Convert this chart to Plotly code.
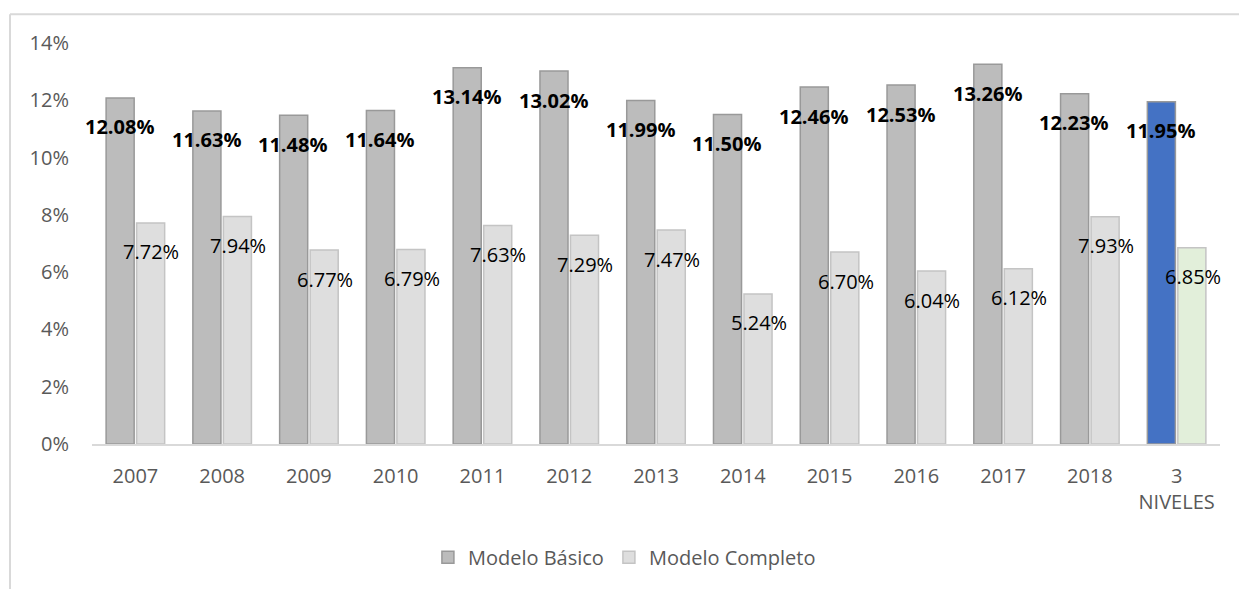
import plotly.graph_objects as go

# Categories and series values (percent)
categories = ["2007", "2008", "2009", "2010", "2011", "2012", "2013",
              "2014", "2015", "2016", "2017", "2018", "3<br>NIVELES"]
basico = [12.08, 11.63, 11.48, 11.64, 13.14, 13.02, 11.99,
          11.50, 12.46, 12.53, 13.26, 12.23, 11.95]
completo = [7.72, 7.94, 6.77, 6.79, 7.63, 7.29, 7.47,
            5.24, 6.70, 6.04, 6.12, 7.93, 6.85]
y_ticks = [0, 2, 4, 6, 8, 10, 12, 14]
y_tick_text = [f"{t}%" for t in y_ticks]

W, H = 1239, 589
M_L, M_R, M_T, M_B = 92, 19, 43, 142
FONT = "Open Sans"

basico_fill = ["#bcbcbc"] * (len(categories) - 1) + ["#4472c4"]
completo_fill = ["#dedede"] * (len(categories) - 1) + ["#e2efda"]

fig = go.Figure()
fig.add_trace(go.Bar(
    name="Modelo Básico", x=categories, y=basico,
    marker=dict(color=basico_fill, line=dict(color="#999999", width=1.5)),
))
fig.add_trace(go.Bar(
    name="Modelo Completo", x=categories, y=completo,
    marker=dict(color=completo_fill, line=dict(color="#c4c4c4", width=1.5)),
))

# Value labels, drawn just below each bar top (x given as category index)
for i, v in enumerate(basico):
    fig.add_annotation(x=i, y=v, text=f"<b>{v:.2f}%</b>", showarrow=False,
                       xshift=-16, yshift=-29, yanchor="middle",
                       font=dict(family=FONT, size=20, color="#000000"))
for i, v in enumerate(completo):
    fig.add_annotation(x=i, y=v, text=f"{v:.2f}%", showarrow=False,
                       xshift=16, yshift=-29, yanchor="middle",
                       font=dict(family=FONT, size=20, color="#000000"))

# Chart-area border (top and left edges)
pw = W - M_L - M_R
ph = H - M_T - M_B
bx = (10 - M_L) / pw
by = 1 + (M_T - 14) / ph
border = dict(color="#d9d9d9", width=2)
fig.add_shape(type="line", xref="paper", yref="paper",
              x0=bx, x1=1.2, y0=by, y1=by, line=border)
fig.add_shape(type="line", xref="paper", yref="paper",
              x0=bx, x1=bx, y0=by, y1=-0.6, line=border)

fig.update_layout(
    width=W, height=H,
    margin=dict(l=M_L, r=M_R, t=M_T, b=M_B),
    paper_bgcolor="white", plot_bgcolor="white",
    barmode="group", bargap=0.297, bargroupgap=0.08,
    font=dict(family=FONT, size=20, color="#595959"),
    showlegend=True,
    legend=dict(orientation="h", x=0.472, xanchor="center",
                y=(447 - 561) / ph, yanchor="middle",
                font=dict(family=FONT, size=20, color="#595959"),
                itemwidth=30, traceorder="normal"),
    xaxis=dict(type="category", range=[-0.5, len(categories) - 0.5],
               showline=True, linecolor="#d9d9d9",
               linewidth=1.5, showgrid=False, ticks="", ticklabelstandoff=13,
               tickfont=dict(family=FONT, size=20, color="#595959")),
    yaxis=dict(range=[0, 14], tickmode="array", tickvals=y_ticks,
               ticktext=y_tick_text,
               showgrid=False, zeroline=False, showline=False, ticks="",
               ticklabelstandoff=22,
               tickfont=dict(family=FONT, size=20, color="#595959")),
)

fig.write_html("out.html")
